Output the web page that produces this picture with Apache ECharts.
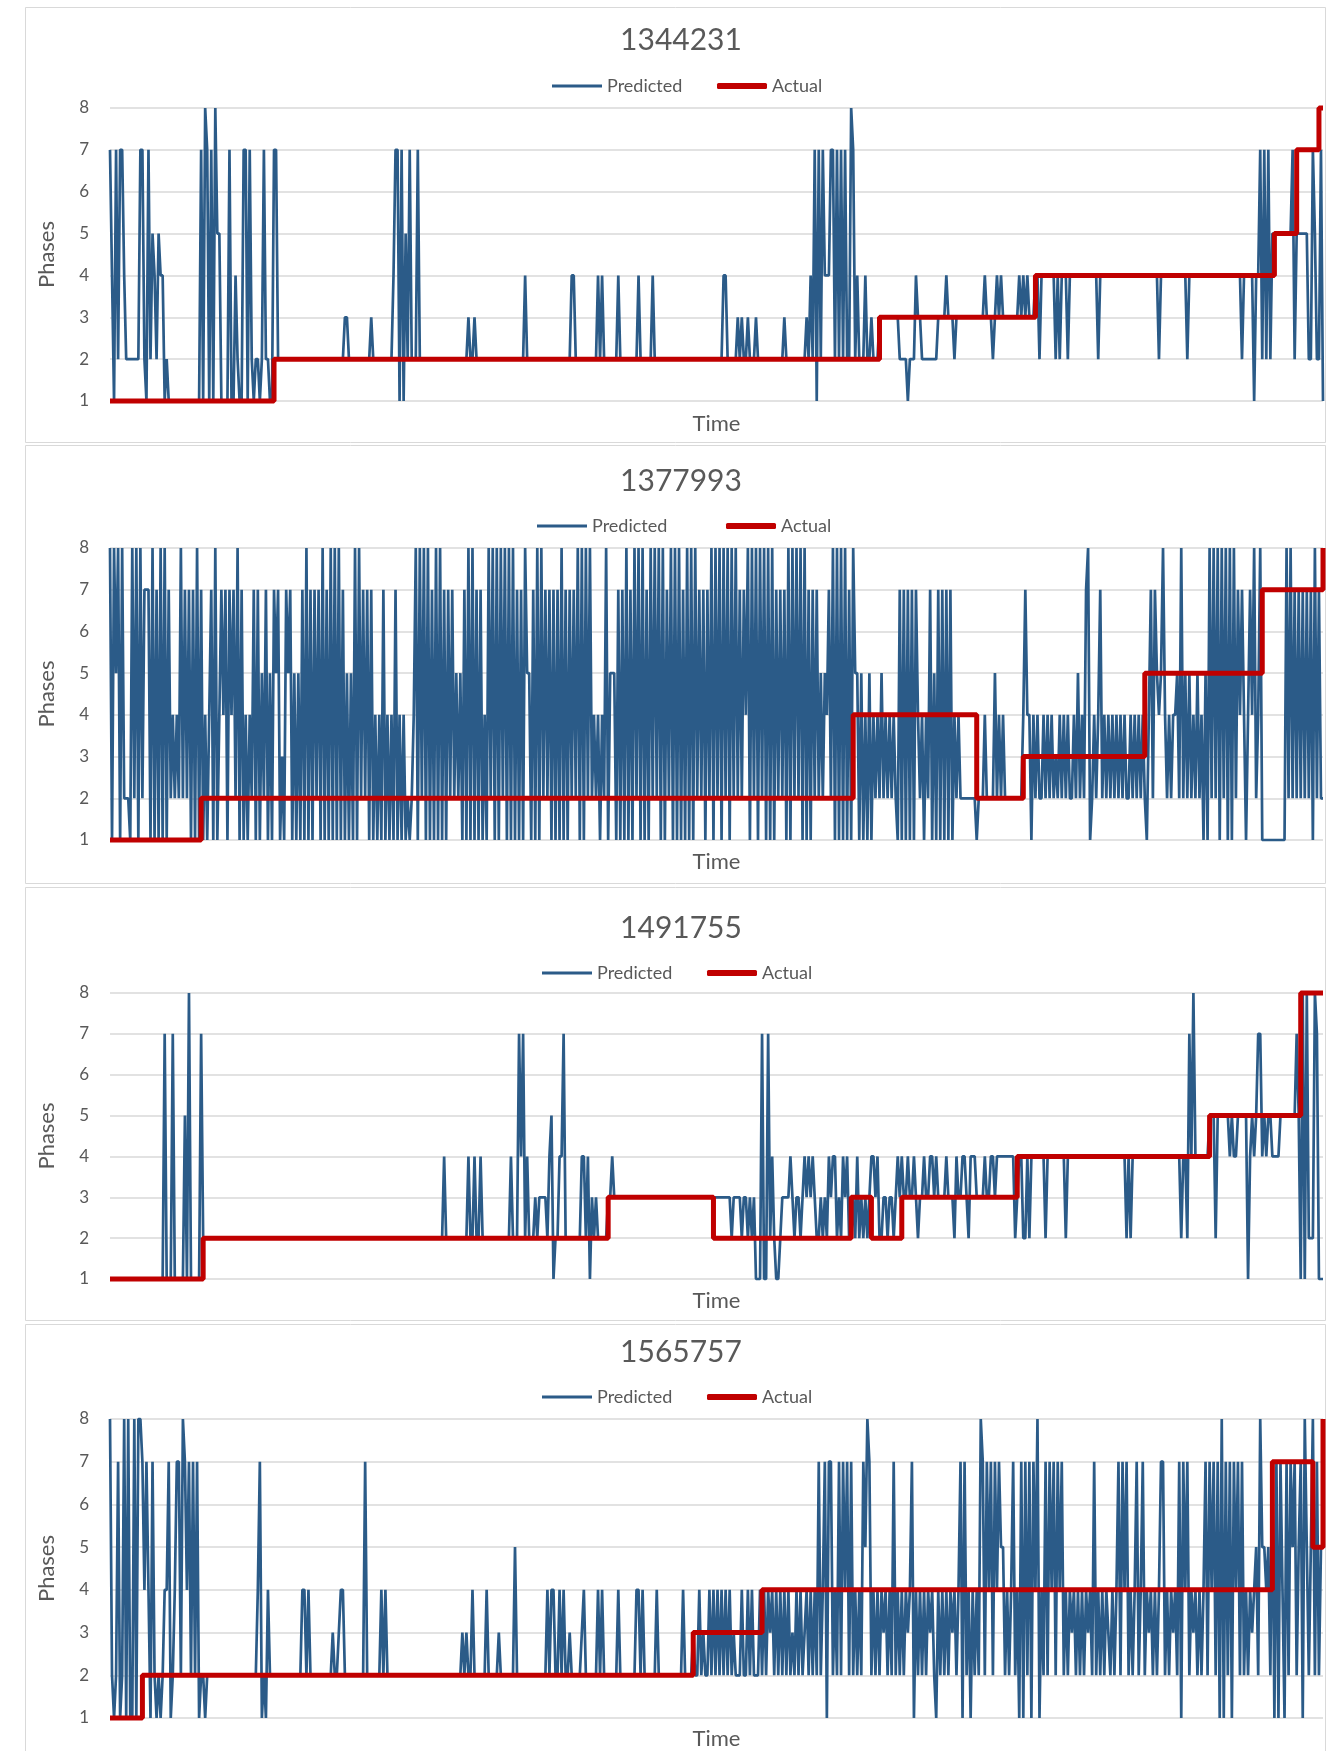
<!DOCTYPE html>
<html>
<head>
<meta charset="utf-8">
<script src="https://cdn.jsdelivr.net/npm/echarts@6/dist/echarts.min.js"></script>
<style>
  html, body { margin: 0; padding: 0; background: #ffffff; }
  #chart { width: 1342px; height: 1751px; }
</style>
</head>
<body>
<div id="chart"></div>
<script>
// Panel titles (subject ids)
const panelTitles = ['1344231', '1377993', '1491755', '1565757'];

// Predicted phase per time step (600 steps per panel), one digit per step
const predicted1 = [
  "7417277422","2222277217","2542544121","1111111111","1111171871","7185511117",
  "1142117717","2122127221","1772222222","2222222222","2222222222","2222223322",
  "2222222223","2222222222","4771715272","2272222222","2222222222","2222222322",
  "3222222222","2222222222","2222242222","2222222222","2222222244","2222222222",
  "2424222222","2422222222","2422222242","2222222222","2222222222","2222222222",
  "2224422222","3232232223","2222222222","2223222222","2222324271","7274447727",
  "2727228724","2224223222","3333333333","2222122243","3222222223","3334333233",
  "3333333333","3343332343","4333333334","3434333442","4444444242","4442444444",
  "4444444424","4444444444","4444444444","4444444424","4444444444","4424444444",
  "4444444444","4444444442","4444414472","7272555555","5555725555","5522752271"
];
const predicted2 = [
  "8185818222","1828182777","1817181817","2424282727","1718171414","7181474717",
  "4728171414","2717152715","1757131757","1515171817","1727181718","1818171515",
  "1818272717","1414171414","1714141212","4818281817","1818171727","2525171818",
  "1717141828","1818281818","1717185517","1818272717","1718171727","2818182824",
  "2414281555","1717181718","2818171828","2818172818","1817181818","2727172818",
  "2818281828","2727481828","1828181817","2727181828","2818171727","2525472818",
  "1818171855","1514151424","2524242421","7171717174","2414271517","1717171424",
  "2222222212","2242222524","2422222222","2474414242","2424242324","2424224252",
  "4278124247","2424242424","2422424242","4214727545","8424244528","2525242524",
  "1518282818","2818182747","4147482481","1111111111","1828272727","2727182722"
];
const predicted3 = [
  "1111111111","1111111111","1111111711","1711111518","1111172222","2222222222",
  "2222222222","2222222222","2222222222","2222222222","2222222222","2222222222",
  "2222222222","2222222222","2222222222","2222222222","2222242222","2222222422",
  "4224222222","2222222242","2274724222","3233332451","2244722222","2224424132",
  "3222223343","3333333333","3333333333","3333333333","3333333333","3333333333",
  "3333333233","3323323231","1171172421","1233334323","3234343432","2323243442",
  "3243422324","2323234434","2233233234","3433433432","3343344343","3334333243",
  "3443244433","3343344344","4444444234","4224244444","4424444444","4424444444",
  "4444444444","4444444444","4424244444","4444444444","4444444442","4427484444",
  "4445552555","5554544555","5514545774","5455444455","5555557518","1822287111"
];
const predicted4 = [
  "8212712818","1181887474","1721212447","1247728747","2727122122","2222222222",
  "2222222222","2224712142","2222222222","2222244242","2222222222","3223442222",
  "2222227222","2222424222","2222222222","2222222222","2222222222","2222323224",
  "2222224222","2232222222","5222222222","2222224244","2242422322","2223422222",
  "2424222222","2422222222","4424222222","4222222222","2224222232","2423224242",
  "4242424232","2242242422","2424243424","2424242324","2423424242","7247177242",
  "7274727242","4275872424","2434242724","2424347142","4242434214","2424243424",
  "7172414242","8727472747","5524247241","7172717481","4272747274","7242434242",
  "4243427242","4243242472","7472424724","7243424247","7242434271","7472434242",
  "4727472718","1727174727","2424345285","5452717174","1727572571","8525827255"
];

// Actual phase: [time step where the phase starts, phase]
const actual1 = [[0,1],[81,2],[380,3],[457,4],[575,5],[586,7],[597,8],[599,8]];
const actual2 = [[0,1],[45,2],[367,4],[428,2],[451,3],[511,5],[569,7],[599,8]];
const actual3 = [[0,1],[46,2],[246,3],[298,2],[366,3],[376,2],[391,3],[448,4],[543,5],[588,8],[599,8]];
const actual4 = [[0,1],[16,2],[288,3],[322,4],[574,7],[594,5],[599,8]];

const predictedSets = [predicted1, predicted2, predicted3, predicted4]
  .map(rows => rows.join('').split('').map(Number));
const actualSets = [actual1, actual2, actual3, actual4];

// Page layout of the four stacked panels
const layout = [
  { box: [25, 7, 1300, 435],    gridTop: 108,  gridHeight: 293, titleTop: 17,   legendTop: 76,   legendLeft: [552, 717], nameGap: 12 },
  { box: [25, 445, 1300, 438],  gridTop: 548,  gridHeight: 292, titleTop: 458,  legendTop: 516,  legendLeft: [537, 726], nameGap: 11 },
  { box: [25, 887, 1300, 433],  gridTop: 993,  gridHeight: 286, titleTop: 905,  legendTop: 963,  legendLeft: [542, 707], nameGap: 11 },
  { box: [25, 1324, 1300, 440], gridTop: 1419, gridHeight: 299, titleTop: 1329, legendTop: 1387, legendLeft: [542, 707], nameGap: 10 }
];

const FONT = 'Lato, "Open Sans", "Noto Sans", sans-serif';
const TEXT = '#595959';
const BLUE = '#2b5b88';
const RED = '#c00000';
const GRID_LINE = '#d9d9d9';

// Legend swatches: a thin bar for the predicted line, a thick rounded one for the actual line
const legendIcons = {
  Predicted: { icon: 'rect', height: 3 },
  Actual: { icon: 'roundRect', height: 6 }
};

const option = {
  backgroundColor: '#ffffff',
  animation: false,
  textStyle: { fontFamily: FONT },
  title: [], legend: [], grid: [], xAxis: [], yAxis: [], series: [],
  graphic: []
};

layout.forEach((p, k) => {
  option.graphic.push({
    type: 'rect', z: -10, silent: true,
    shape: { x: p.box[0] + 0.5, y: p.box[1] + 0.5, width: p.box[2], height: p.box[3] },
    style: { fill: '#ffffff', stroke: GRID_LINE, lineWidth: 1 }
  });

  option.title.push({
    text: panelTitles[k],
    left: 676, top: p.titleTop, textAlign: 'center',
    textStyle: { fontSize: 30, fontWeight: 'normal', color: TEXT, fontFamily: FONT, lineHeight: 36 }
  });

  ['Predicted', 'Actual'].forEach((name, j) => {
    option.legend.push({
      data: [name], left: p.legendLeft[j], top: p.legendTop,
      icon: legendIcons[name].icon,
      itemWidth: 50, itemHeight: legendIcons[name].height, itemGap: 0, padding: 0,
      selectedMode: false,
      textStyle: { fontSize: 18, color: TEXT, fontFamily: FONT, lineHeight: 20 }
    });
  });

  option.grid.push({ left: 110, right: 19, top: p.gridTop, height: p.gridHeight });

  option.xAxis.push({
    gridIndex: k, type: 'value', min: 0, max: 599,
    name: 'Time', nameLocation: 'middle', nameGap: p.nameGap,
    nameTextStyle: { fontSize: 22, color: TEXT, fontFamily: FONT },
    axisLine: { show: false }, axisTick: { show: false },
    axisLabel: { show: false }, splitLine: { show: false }
  });

  option.yAxis.push({
    gridIndex: k, type: 'value', min: 1, max: 8, interval: 1,
    name: 'Phases', nameLocation: 'middle', nameRotate: 90, nameGap: 52,
    nameTextStyle: { fontSize: 22, color: TEXT, fontFamily: FONT },
    axisLine: { show: false }, axisTick: { show: false },
    axisLabel: { fontSize: 17, color: TEXT, fontFamily: FONT, margin: 21 },
    splitLine: { lineStyle: { color: GRID_LINE, width: 1.5 } }
  });

  option.series.push({
    name: 'Predicted', type: 'line', xAxisIndex: k, yAxisIndex: k,
    data: predictedSets[k].map((v, i) => [i, v]),
    symbol: 'none', showSymbol: false, clip: false,
    lineStyle: { color: BLUE, width: 2.7 }, itemStyle: { color: BLUE },
    emphasis: { disabled: true }
  });

  option.series.push({
    name: 'Actual', type: 'line', step: 'end', xAxisIndex: k, yAxisIndex: k,
    data: actualSets[k],
    symbol: 'none', showSymbol: false, clip: false,
    lineStyle: { color: RED, width: 5 }, itemStyle: { color: RED },
    emphasis: { disabled: true }
  });
});

const chart = echarts.init(document.getElementById('chart'), null, { renderer: 'canvas' });
chart.setOption(option);
</script>
</body>
</html>
